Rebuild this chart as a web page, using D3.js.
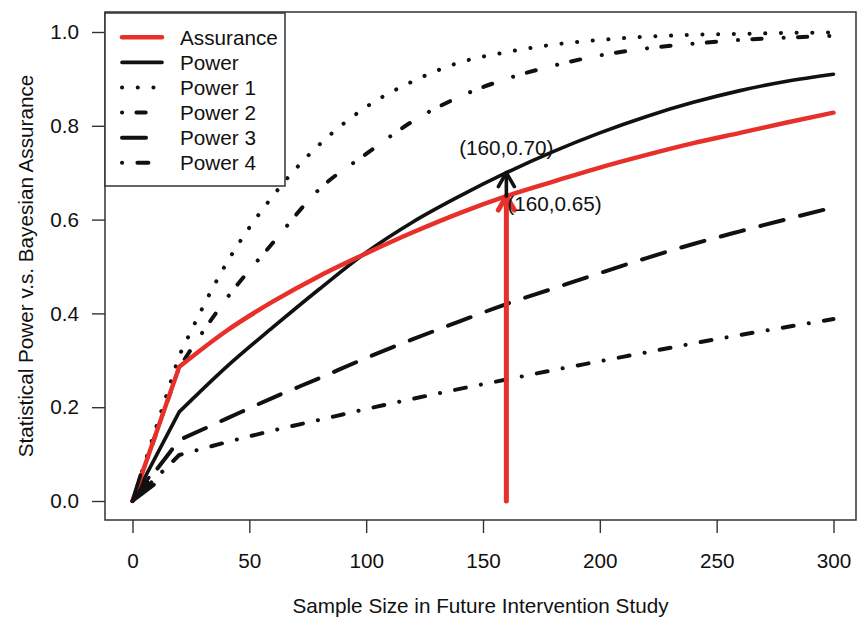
<!DOCTYPE html>
<html>
<head>
<meta charset="utf-8">
<script src="https://cdn.jsdelivr.net/npm/d3@7"></script>
<style>
body{margin:0;background:#fff;}
text{font-family:"Liberation Sans",Arial,Helvetica,sans-serif;fill:#111;}
</style>
</head>
<body>
<script>
var width = 858;
var height = 619;

// sample sizes where the curves were read
var sampleSize = [0, 20, 40, 60, 80, 100, 120, 140, 160, 180, 200, 220, 240, 260, 280, 300];

var assurance = [0, 0.286, 0.362, 0.425, 0.48, 0.528, 0.573, 0.614, 0.65, 0.681, 0.711, 0.738, 0.763, 0.785, 0.807, 0.828];
var power  = [0, 0.19, 0.285, 0.37, 0.452, 0.53, 0.595, 0.65, 0.70, 0.745, 0.785, 0.82, 0.85, 0.875, 0.895, 0.91];
var power1 = [0, 0.31, 0.505, 0.65, 0.76, 0.84, 0.895, 0.935, 0.957, 0.973, 0.983, 0.99, 0.994, 0.996, 0.998, 0.999];
var power2 = [0, 0.285, 0.43, 0.55, 0.665, 0.74, 0.81, 0.862, 0.90, 0.928, 0.95, 0.965, 0.975, 0.983, 0.988, 0.992];
var power3 = [0, 0.13, 0.175, 0.22, 0.262, 0.305, 0.345, 0.383, 0.42, 0.453, 0.486, 0.518, 0.548, 0.575, 0.601, 0.626];
var power4 = [0, 0.098, 0.125, 0.15, 0.173, 0.196, 0.218, 0.239, 0.259, 0.279, 0.298, 0.317, 0.336, 0.354, 0.371, 0.388];

var xTicks = [0, 50, 100, 150, 200, 250, 300];
var yTicks = [0, 0.2, 0.4, 0.6, 0.8, 1.0];

var legendNames = ["Assurance", "Power", "Power 1", "Power 2", "Power 3", "Power 4"];

// arrows: [n0, v0, n1, v1]
var arrowRed = [160, 0, 160, 0.65];
var arrowBlack = [160, 0.65, 160, 0.70];
var arrowOrigin = [7, 0.05, 0, 0];

var red = "#e8302b";
var fontSize = "20.7px";

var series = [
	{name:"Assurance", values:assurance, color:red, width:4.5, dash:null},
	{name:"Power", values:power, color:"#111", width:3.6, dash:null},
	{name:"Power 1", values:power1, color:"#111", width:4, dash:"0.1,15.6"},
	{name:"Power 2", values:power2, color:"#111", width:4, dash:"0.1,14.3,9.3,22"},
	{name:"Power 3", values:power3, color:"#111", width:4, dash:"24,17"},
	{name:"Power 4", values:power4, color:"#111", width:4, dash:"0.1,15.3,11,15.3"}
];

var svg = d3.select("body")
.append("svg")
.attr("width",width)
.attr("height",height);

var x = d3.scaleLinear()
.domain([0,300])
.range([132.5,833.5]);

var y = d3.scaleLinear()
.domain([0,1])
.range([501,32]);

var boxLeft = 105, boxRight = 856, boxTop = 12, boxBottom = 520;

// frame
svg.append("rect")
.attr("x",boxLeft)
.attr("y",boxTop)
.attr("width",boxRight-boxLeft)
.attr("height",boxBottom-boxTop)
.attr("fill","none")
.attr("stroke","#333")
.attr("stroke-width",1.5);

// x axis (ticks hang below the frame)
var xAxis = d3.axisBottom(x)
.tickValues(xTicks)
.tickSize(13)
.tickPadding(20)
.tickFormat(d3.format("d"));

var gx = svg.append("g")
.attr("transform","translate(0,"+boxBottom+")")
.call(xAxis);
gx.select(".domain").remove();
gx.selectAll("line").attr("stroke","#333").attr("stroke-width",1.4);
gx.selectAll("text").attr("font-size",fontSize).attr("fill","#111").attr("dy","0.71em");

var yAxis = d3.axisLeft(y)
.tickValues(yTicks)
.tickSize(13)
.tickPadding(13)
.tickFormat(d3.format(".1f"));

var gy = svg.append("g")
.attr("transform","translate("+boxLeft+",0)")
.call(yAxis);
gy.select(".domain").remove();
gy.selectAll("line").attr("stroke","#333").attr("stroke-width",1.4);
gy.selectAll("text").attr("font-size",fontSize).attr("fill","#111");

// axis titles
svg.append("text")
.attr("x",(boxLeft+boxRight)/2)
.attr("y",613)
.attr("text-anchor","middle")
.attr("font-size",fontSize)
.text("Sample Size in Future Intervention Study");

svg.append("text")
.attr("transform","translate(33,"+(boxTop+boxBottom)/2+") rotate(-90)")
.attr("text-anchor","middle")
.attr("font-size",fontSize)
.text("Statistical Power v.s. Bayesian Assurance");

// curves: straight from 0 to 20, smooth afterwards
var smooth = d3.line()
.x(function(d){ return x(d[0]); })
.y(function(d){ return y(d[1]); })
.curve(d3.curveMonotoneX);

function curvePath(values){
	var pts = sampleSize.map(function(n,i){ return [n, values[i]]; });
	var rest = smooth(pts.slice(1));
	return "M" + x(pts[0][0]) + "," + y(pts[0][1]) + "L" + rest.slice(1);
}

svg.selectAll(".curve")
.data(series.slice().reverse())
.enter()
.append("path")
.attr("class","curve")
.attr("d",function(d){ return curvePath(d.values); })
.attr("fill","none")
.attr("stroke",function(d){ return d.color; })
.attr("stroke-width",function(d){ return d.width; })
.attr("stroke-dasharray",function(d){ return d.dash; })
.attr("stroke-linecap","round")
.attr("stroke-linejoin","round");

// arrows
function drawArrow(a, color, w, len, half){
	var x0 = x(a[0]), y0 = y(a[1]), x1 = x(a[2]), y1 = y(a[3]);
	var ang = Math.atan2(y1-y0, x1-x0);
	var g = svg.append("g")
	.attr("stroke",color)
	.attr("stroke-width",w)
	.attr("stroke-linecap","round")
	.attr("fill","none");
	g.append("line").attr("x1",x0).attr("y1",y0).attr("x2",x1).attr("y2",y1);
	[-1,1].forEach(function(s){
		var t = ang + Math.PI + s*half;
		g.append("line")
		.attr("x1",x1).attr("y1",y1)
		.attr("x2",x1+len*Math.cos(t))
		.attr("y2",y1+len*Math.sin(t));
	});
}

drawArrow(arrowRed, red, 5, 16, Math.PI/6);
drawArrow(arrowBlack, "#111", 3.6, 16, Math.PI/6);
drawArrow(arrowOrigin, "#111", 3.6, 27, Math.PI/10);

// annotations
svg.append("text")
.attr("x",x(160))
.attr("y",155)
.attr("text-anchor","middle")
.attr("font-size",fontSize)
.text("(160,0.70)");

svg.append("text")
.attr("x",x(160)+1)
.attr("y",211)
.attr("font-size",fontSize)
.text("(160,0.65)");

// legend
var legend = svg.append("g");
legend.append("rect")
.attr("x",boxLeft)
.attr("y",boxTop+1)
.attr("width",180)
.attr("height",173)
.attr("fill","#fff")
.attr("stroke","#333")
.attr("stroke-width",1.5);

var rowH = 25.1;
var item = legend.selectAll(".item")
.data(series)
.enter()
.append("g")
.attr("class","item")
.attr("transform",function(d,i){ return "translate(0,"+(37.3+i*rowH)+")"; });

item.append("line")
.attr("x1",122)
.attr("x2",162)
.attr("stroke",function(d){ return d.color; })
.attr("stroke-width",function(d){ return d.width; })
.attr("stroke-dasharray",function(d){ return d.dash; })
.attr("stroke-linecap","round");

item.append("text")
.attr("x",180)
.attr("dy","0.36em")
.attr("font-size",fontSize)
.text(function(d,i){ return legendNames[i]; });
</script>
</body>
</html>
